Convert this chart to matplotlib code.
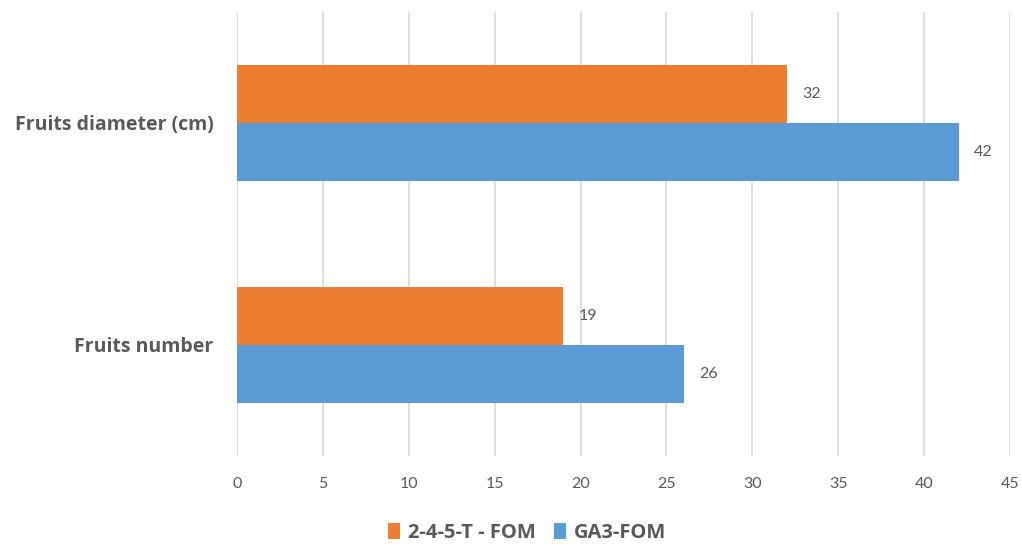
import matplotlib
matplotlib.use("Agg")
import matplotlib.pyplot as plt
import numpy as np

categories = ["Fruits number", "Fruits diameter (cm)"]
series_names = ["2-4-5-T - FOM", "GA3-FOM"]
values_245t = [19, 32]
values_ga3 = [26, 42]
x_ticks = [0, 5, 10, 15, 20, 25, 30, 35, 40, 45]

orange = "#ED7D31"
blue = "#5B9BD5"
text_color = "#595959"
grid_color = "#D9D9D9"

plt.rcParams["font.family"] = ["Lato", "DejaVu Sans"]

fig = plt.figure(figsize=(10.22, 5.44), dpi=100)
ax = fig.add_axes([0.2319, 0.1618, 0.7564, 0.8162])

y = np.arange(len(categories))
h = 0.26
b1 = ax.barh(y + h / 2, values_245t, height=h, color=orange, label=series_names[0], zorder=3)
b2 = ax.barh(y - h / 2, values_ga3, height=h, color=blue, label=series_names[1], zorder=3)

for bars, vals in ((b1, values_245t), (b2, values_ga3)):
    for bar, v in zip(bars, vals):
        ax.annotate(f"{v}", (v, bar.get_y() + bar.get_height() / 2),
                    xytext=(11, 0), textcoords="offset points",
                    va="center", ha="left", fontsize=11.5, color=text_color)

ax.set_xlim(0, 45)
ax.set_ylim(-0.5, 1.5)
ax.set_xticks(x_ticks)
ax.set_yticks(y)
ax.set_yticklabels(categories, fontsize=14, fontweight="bold", color=text_color,
                   family=["Open Sans", "DejaVu Sans"])
ax.tick_params(axis="x", labelsize=11.5, colors=text_color, length=0, pad=15)
ax.tick_params(axis="y", length=0, pad=17)
ax.grid(axis="x", color=grid_color, linewidth=1.2, zorder=0)
for s in ax.spines.values():
    s.set_visible(False)

leg = fig.legend(handles=[b1, b2], loc="center", bbox_to_anchor=(0.516, 0.02),
                 ncol=2, frameon=False, handlelength=0.6, handleheight=0.85,
                 columnspacing=0.9, handletextpad=0.4,
                 prop={"family": ["Open Sans", "DejaVu Sans"], "size": 14.5, "weight": "bold"})
for t in leg.get_texts():
    t.set_color(text_color)

fig.savefig("out.png", dpi=100)
